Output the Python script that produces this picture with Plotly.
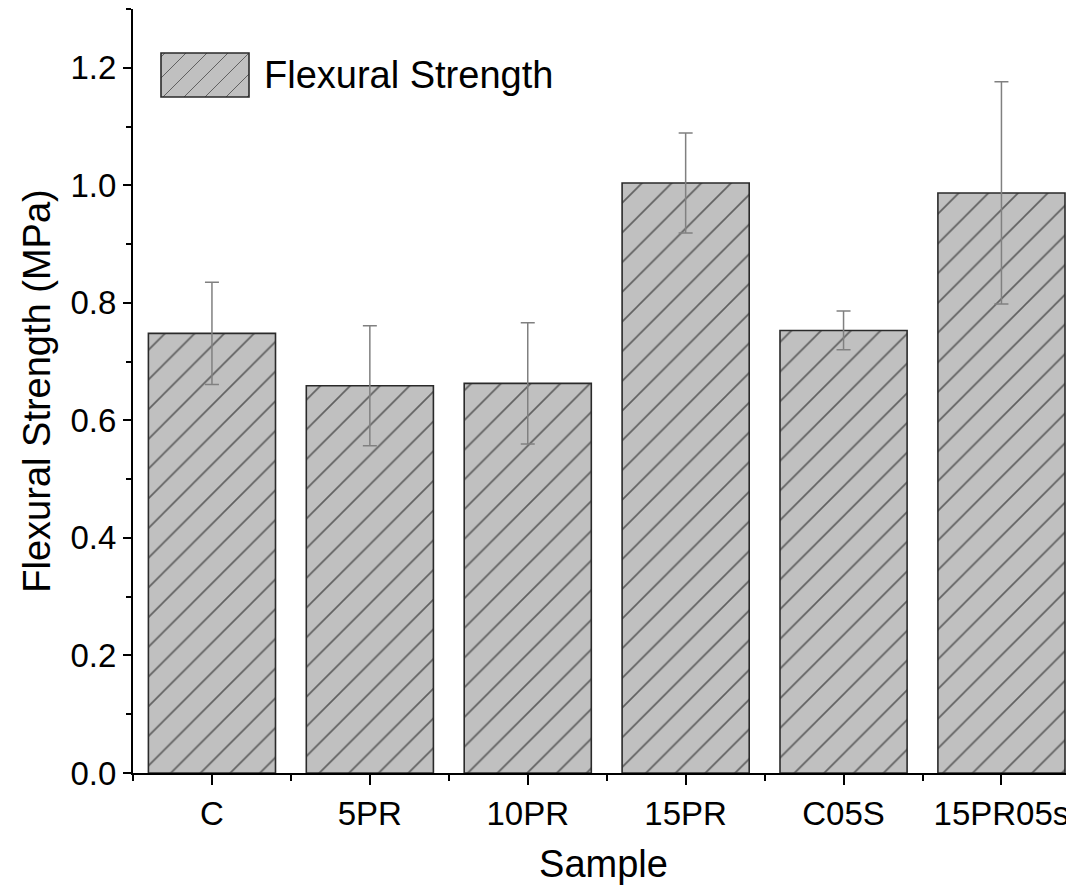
import plotly.graph_objects as go

categories = ["C", "5PR", "10PR", "15PR", "C05S", "15PR05s"]
strength = [0.748, 0.659, 0.663, 1.004, 0.753, 0.987]
strength_err = [0.087, 0.102, 0.103, 0.085, 0.033, 0.189]
y_tick_vals = [0.0, 0.2, 0.4, 0.6, 0.8, 1.0, 1.2]

# page has an 8px body margin; compensate so the plot lands where the reference has it
OFF = 8
W, H = 1066, 877
ML, MR, MT, MB = 125, 0, 1, 112
PW, PH = W - ML - MR, H - MT - MB

FONT = "Liberation Sans, Arial, sans-serif"
xpos = list(range(len(categories)))

fig = go.Figure()
fig.add_trace(go.Bar(
    x=xpos, y=strength, name="Flexural Strength", width=0.805,
    marker=dict(color="#c0c0c0", line=dict(color="#2a2a2a", width=1.6),
                pattern=dict(shape="/", size=21, solidity=0.08,
                             fgcolor="#606060", bgcolor="#c0c0c0", fillmode="replace")),
    error_y=dict(type="data", array=strength_err, visible=True,
                 color="#808080", thickness=1.5, width=7),
    showlegend=False,
))

def px2paper(px, py):
    # px, py are page pixel coordinates
    return (px - OFF - ML) / PW, (H - MB - (py - OFF)) / PH

# legend swatch drawn as shapes
lx0, ly0, lx1, ly1 = 161, 53, 249, 97
shapes = []
a = px2paper(lx0, ly0)
b = px2paper(lx1, ly1)
shapes.append(dict(type="rect", xref="paper", yref="paper",
                   x0=a[0], y0=b[1], x1=b[0], y1=a[1],
                   fillcolor="#c0c0c0", line=dict(width=0)))
spacing = 21
c = lx0 - (ly1 - ly0) + 4
while c < lx1:
    t0 = max(0, lx0 - c)
    t1 = min(ly1 - ly0, lx1 - c)
    if t1 > t0:
        p = px2paper(c + t0, ly1 - t0)
        q = px2paper(c + t1, ly1 - t1)
        shapes.append(dict(type="line", xref="paper", yref="paper",
                           x0=p[0], y0=p[1], x1=q[0], y1=q[1],
                           line=dict(color="#606060", width=1)))
    c += spacing
shapes.append(dict(type="rect", xref="paper", yref="paper",
                   x0=a[0], y0=b[1], x1=b[0], y1=a[1],
                   fillcolor="rgba(0,0,0,0)", line=dict(color="#2a2a2a", width=1.6)))
for s in shapes:
    s["layer"] = "above"

tx, ty = px2paper(262, 75)
fig.add_annotation(x=tx, y=ty, xref="paper", yref="paper", text="Flexural Strength",
                   showarrow=False, xanchor="left", yanchor="middle",
                   font=dict(family=FONT, size=38, color="black"))

fig.update_layout(
    width=W, height=H,
    margin=dict(l=ML, r=MR, t=MT, b=MB),
    paper_bgcolor="white", plot_bgcolor="white",
    font=dict(family=FONT, color="black"),
    shapes=shapes,
    showlegend=False,
)
fig.update_xaxes(
    automargin=False,
    range=[-0.5, -0.5 + PW / 157.9],
    tickmode="array", tickvals=xpos, ticktext=categories,
    ticks="outside", ticklen=10, tickwidth=2, tickcolor="black",
    minor=dict(tickmode="array", tickvals=[i - 0.5 for i in range(len(categories) + 1)],
               ticks="outside", ticklen=6, tickwidth=2, tickcolor="black"),
    showline=True, linecolor="black", linewidth=2,
    showgrid=False, zeroline=False,
    tickfont=dict(family=FONT, size=33, color="black"),
    title=dict(text="Sample", font=dict(family=FONT, size=38, color="black"), standoff=30),
)
fig.update_yaxes(
    automargin=False,
    range=[0, 1.3],
    tickmode="array", tickvals=y_tick_vals, ticktext=[f"{v:.1f}" for v in y_tick_vals],
    ticks="outside", ticklen=8, tickwidth=2, tickcolor="black",
    minor=dict(tickmode="linear", tick0=0.1, dtick=0.2,
               ticks="outside", ticklen=5, tickwidth=2, tickcolor="black"),
    showline=True, linecolor="black", linewidth=2,
    showgrid=False, zeroline=False,
    tickfont=dict(family=FONT, size=33, color="black"),
    title=dict(text="Flexural Strength (MPa)", font=dict(family=FONT, size=38, color="black"), standoff=8),
)

fig.write_html("out.html")
